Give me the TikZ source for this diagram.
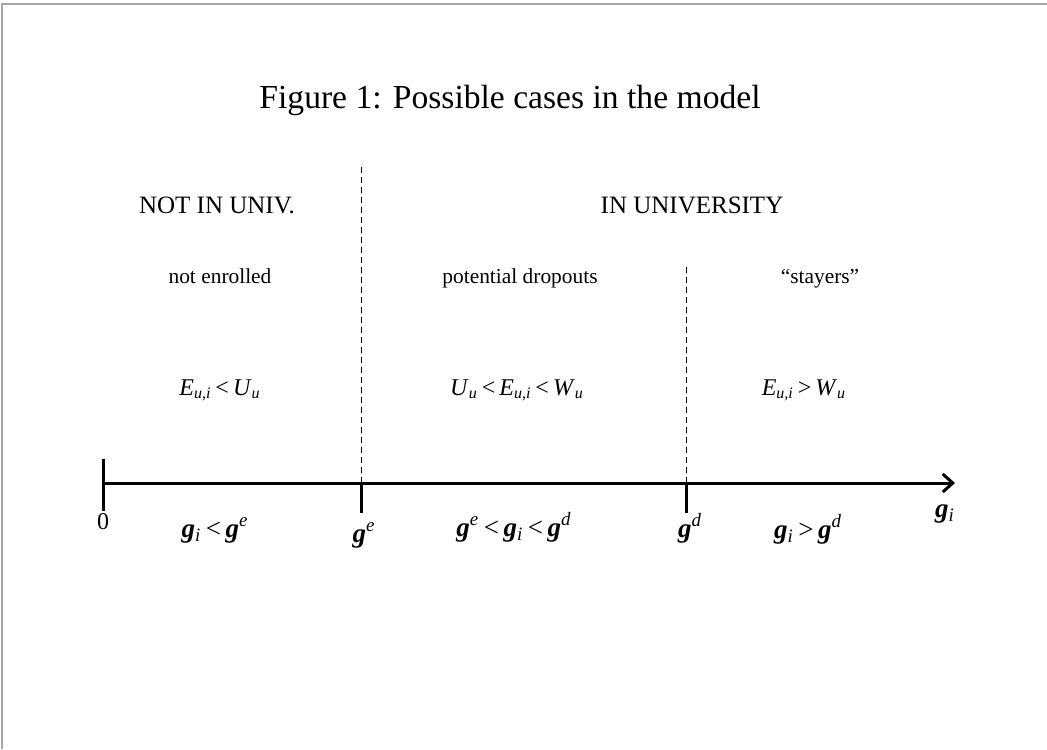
\documentclass[tikz,border=0pt]{standalone}
\usepackage{fontspec}
\setmainfont{Liberation Serif}
\usetikzlibrary{arrows.meta}
\newcommand{\gv}{\textbf{\textit{g}}}
\newcommand{\sbi}[1]{\textsubscript{\textit{#1}}}
\newcommand{\spi}[1]{\textsuperscript{\textit{#1}}}
\newcommand{\rel}[1]{\,#1\,}
\begin{document}
\begin{tikzpicture}[x=0.5pt, y=-0.5pt,
      txt/.style={inner sep=0pt, text height=1.6ex, text depth=0.4ex,
                  font=\fontsize{10.7}{12}\selectfont},
      head/.style={inner sep=0pt, font=\fontsize{12.5}{14}\selectfont},
      ttl/.style={inner sep=0pt, font=\fontsize{16.8}{19}\selectfont},
      frm/.style={inner sep=0pt, text height=1.6ex, text depth=0.5ex,
                  font=\fontsize{12}{14}\selectfont},
      gfrm/.style={inner sep=0pt, text height=1.6ex, text depth=0.5ex,
                  font=\fontsize{13.5}{15}\selectfont},
      axis/.style={line width=1.5pt},
      sep/.style={densely dashed, line width=0.4pt}]
    \useasboundingbox (0,0) rectangle (1047,749);
    % frame
    \draw[gray!70, line width=1pt] (2,749) -- (2,4) -- (1047,4);
    \node[ttl] (title) at (510,100) {Figure 1: Possible cases in the model};
    % regions
    \node[head] (notuniv) at (217,205) {NOT IN UNIV.};
    \node[head] (inuniv) at (692,205) {IN UNIVERSITY};
    \node[txt] (notenr) at (220,278) {not enrolled};
    \node[txt] (dropouts) at (520,278) {potential dropouts};
    \node[txt] (stayers) at (820,278) {``stayers''};
    \node[frm] (c1) at (220,390) {\textit{E}\sbi{u,i}\rel{<}\textit{U}\sbi{u}};
    \node[frm] (c2) at (517,390) {\textit{U}\sbi{u}\rel{<}\textit{E}\sbi{u,i}\rel{<}\textit{W}\sbi{u}};
    \node[frm] (c3) at (804,390) {\textit{E}\sbi{u,i}\rel{>}\textit{W}\sbi{u}};
    % axis
    \coordinate (zero) at (103,483);
    \coordinate (ge) at (361,483);
    \coordinate (gd) at (686,483);
    \coordinate (tip) at (955,483);
    \draw[axis, -{Straight Barb[length=5pt, width=9pt, line width=1.5pt]}] (zero) -- (tip);
    \draw[axis] ([yshift=12pt]zero) -- ([yshift=-14pt]zero);
    \draw[axis] (ge) -- ([yshift=-15pt]ge);
    \draw[axis] (gd) -- ([yshift=-15pt]gd);
    \draw[sep] (ge) -- ([yshift=160pt]ge);
    \draw[sep] (gd) -- ([yshift=108pt]gd);
    % axis labels
    \node[frm] (lzero) at (103,524) {0};
    \node[gfrm] (l1) at (215,532) {\gv\sbi{i}\rel{<}\gv\spi{e}};
    \node[gfrm] (lge) at (364,537) {\gv\spi{e}};
    \node[gfrm] (l2) at (514,531) {\gv\spi{e}\rel{<}\gv\sbi{i}\rel{<}\gv\spi{d}};
    \node[gfrm] (lgd) at (690,532) {\gv\spi{d}};
    \node[gfrm] (l3) at (808,533) {\gv\sbi{i}\rel{>}\gv\spi{d}};
    \node[gfrm] (lgi) at (945,512) {\gv\sbi{i}};
\end{tikzpicture}
\end{document}
